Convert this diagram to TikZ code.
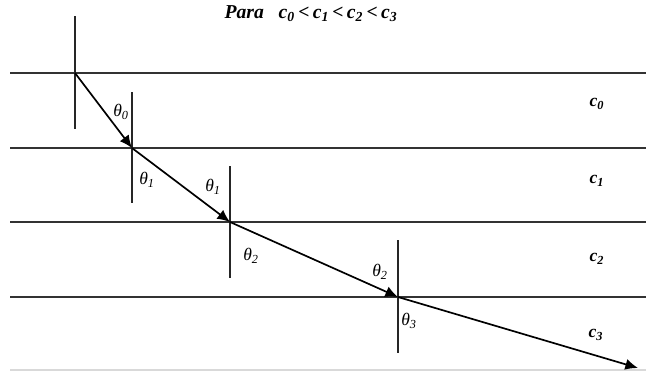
\documentclass[tikz,border=0pt]{standalone}
\usepackage{fontspec}
\setmainfont{Liberation Serif}
\usetikzlibrary{arrows.meta,positioning}

\begin{document}
\begin{tikzpicture}[
    x=0.025cm, y=-0.025cm,
    iface/.style={line width=0.9pt, black!80},
    normal/.style={line width=0.9pt, black!85},
    ray/.style={line width=1.2pt, -{Latex[length=9pt,width=8pt]}},
    ang/.style={font=\itshape\fontsize{12.5}{12.5}\selectfont, inner sep=0pt},
    vel/.style={font=\bfseries\itshape\fontsize{12.5}{12.5}\selectfont, inner sep=0pt},
    >=Stealth
]
    \useasboundingbox (0,0) rectangle (646,371);

    % Title
    \node[font=\bfseries\itshape\fontsize{14}{14}\selectfont] (title) at (311,14)
        {Para\ \ \ c\textsubscript{0}\,<\,c\textsubscript{1}\,<\,c\textsubscript{2}\,<\,c\textsubscript{3}};

    % Interfaces
    \coordinate (l0) at (10,73);   \coordinate (r0) at (646,73);
    \coordinate (l1) at (10,148);  \coordinate (r1) at (646,148);
    \coordinate (l2) at (10,222);  \coordinate (r2) at (646,222);
    \coordinate (l3) at (10,297);  \coordinate (r3) at (646,297);
    \coordinate (l4) at (10,370);  \coordinate (r4) at (646,370);
    \draw[iface] (l0) -- (r0);
    \draw[iface] (l1) -- (r1);
    \draw[iface] (l2) -- (r2);
    \draw[iface] (l3) -- (r3);
    \draw[line width=0.8pt, black!15] (l4) -- (r4);

    % Ray points
    \coordinate (p0) at (75,73);
    \coordinate (p1) at (132,148);
    \coordinate (p2) at (230,222);
    \coordinate (p3) at (398,297);
    \coordinate (p4) at (638,368);

    % Normals
    \coordinate (n0a) at (75,16);   \coordinate (n0b) at (75,129);
    \coordinate (n1a) at (132,92);  \coordinate (n1b) at (132,203);
    \coordinate (n2a) at (230,166); \coordinate (n2b) at (230,278);
    \coordinate (n3a) at (398,240); \coordinate (n3b) at (398,353);
    \draw[normal] (n0a) -- (n0b);
    \draw[normal] (n1a) -- (n1b);
    \draw[normal] (n2a) -- (n2b);
    \draw[normal] (n3a) -- (n3b);

    % Ray
    \draw[ray] (p0) -- (p1);
    \draw[ray] (p1) -- (p2);
    \draw[ray] (p2) -- (p3);
    \draw[ray] (p3) -- (p4);

    % Angles
    \node[ang] (t0) at (121,112) {θ\textsubscript{0}};
    \node[ang] (t1a) at (147,180) {θ\textsubscript{1}};
    \node[ang] (t1b) at (213,187) {θ\textsubscript{1}};
    \node[ang] (t2a) at (251,256) {θ\textsubscript{2}};
    \node[ang] (t2b) at (380,272) {θ\textsubscript{2}};
    \node[ang] (t3) at (409,321) {θ\textsubscript{3}};

    % Speeds
    \node[vel] (c0) at (597,104) {c\textsubscript{0}};
    \node[vel] (c1) at (597,181) {c\textsubscript{1}};
    \node[vel] (c2) at (597,259) {c\textsubscript{2}};
    \node[vel] (c3) at (596,335) {c\textsubscript{3}};
\end{tikzpicture}
\end{document}
